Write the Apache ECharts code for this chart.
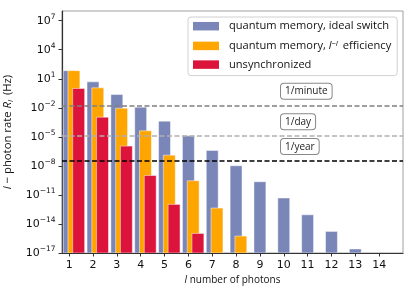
<!DOCTYPE html>
<html><head><meta charset="utf-8">
<script src="https://cdn.jsdelivr.net/npm/echarts@6/dist/echarts.min.js"></script>
<style>html,body{margin:0;padding:0;background:#fff}#c{width:415px;height:291px}</style>
</head><body><div id="c"></div>
<script>
const photons = [1, 2, 3, 4, 5, 6, 7, 8, 9, 10, 11, 12, 13, 14];
const idealSwitch = [69, 4.8, 0.234, 0.0117, 4.2e-4, 1.26e-5, 3.9e-7, 1.02e-8, 2.3e-10, 4.8e-12, 8.9e-14, 1.7e-15, 2.6e-17];
const lEfficiency = [69, 1.15, 9.1e-3, 4.2e-5, 1.29e-7, 2.9e-10, 4.4e-13, 5.6e-16];
const unsynchronized = [1.0, 1.07e-3, 1.1e-6, 1.02e-9, 1.05e-12, 1.05e-15];
const thresholdRates = [1 / 60, 1 / 86400, 1 / 31557600];
const thresholdLabels = ['1/minute', '1/day', '1/year'];

const seriesNames = ['quantum memory, ideal switch', 'quantum memory, l^-l efficiency', 'unsynchronized'];
const colors = ['#7a86b8', '#ffa500', '#dc143c'];
const offsets = [0, 0.2, 0.4];
const BAR_W = 0.5;
const Y_MIN = 1e-17, Y_MAX = 1e8;
const TXT = 'Open Sans';

function makeRender(offset) {
  return function (params, api) {
    const x = api.value(0), y = api.value(1);
    const p1 = api.coord([x + offset - BAR_W / 2, y]);
    const p2 = api.coord([x + offset + BAR_W / 2, Y_MIN]);
    return {
      type: 'rect',
      shape: { x: p1[0], y: p1[1], width: p2[0] - p1[0], height: p2[1] - p1[1] },
      style: { fill: api.visual('color'), stroke: 'rgba(255,255,255,0.8)', lineWidth: 0.6 }
    };
  };
}
const valuesList = [idealSwitch, lEfficiency, unsynchronized];
const series = valuesList.map((vals, k) => ({
  type: 'custom',
  name: seriesNames[k],
  renderItem: makeRender(offsets[k]),
  itemStyle: { color: colors[k] },
  encode: { x: 0, y: 1 },
  data: vals.map((v, i) => [photons[i], v]),
  clip: true,
  z: 2 + k
}));
const lineColors = ['#808080', '#b0b0b0', '#000000'];
series.push({
  type: 'line',
  name: 'thresholds',
  data: [],
  silent: true,
  z: 10,
  markLine: {
    silent: true,
    precision: 20,
    symbol: ['none', 'none'],
    animation: false,
    data: thresholdRates.map((r, i) => ({
      yAxis: r,
      lineStyle: { color: lineColors[i], type: [5, 2.5], width: 1.5 },
      label: { formatter: thresholdLabels[i] }
    })),
    label: {
      show: true,
      position: 'insideStartTop',
      distance: [219, 7],
      fontFamily: TXT,
      fontSize: 10,
      color: '#222',
      backgroundColor: '#fff',
      borderColor: '#888',
      borderWidth: 1,
      borderRadius: 3,
      padding: [2, 4, 1, 4],
      lineHeight: 12
    }
  }
});

const chart = echarts.init(document.getElementById('c'), null, { renderer: 'canvas' });
chart.setOption({
  animation: false,
  backgroundColor: '#fff',
  grid: { left: 62, right: 12, top: 11, bottom: 38, outerBoundsMode: 'none', containLabel: false, show: true, borderColor: '#a0a0a0', borderWidth: 1, backgroundColor: 'transparent' },
  legend: {
    data: seriesNames,
    orient: 'vertical',
    left: 188, top: 17,
    icon: 'rect',
    itemWidth: 26, itemHeight: 8.5, itemGap: 7.7,
    padding: [3.7, 6, 5.5, 5],
    backgroundColor: '#fff',
    borderColor: '#d0d0d0', borderWidth: 1, borderRadius: 3,
    formatter: function (name) {
      if (name === seriesNames[1]) return '{n|quantum memory, }{i|l}{sup|−l}{n| efficiency}';
      return '{n|' + name + '}';
    },
    textStyle: {
      padding: [0, 0, 0, 5],
      rich: {
        n: { fontFamily: TXT, fontSize: 11.1, color: '#111', lineHeight: 13 },
        i: { fontFamily: TXT, fontStyle: 'italic', fontSize: 11.1, color: '#111', lineHeight: 13 },
        sup: { fontFamily: TXT, fontStyle: 'italic', fontSize: 7.8, color: '#111', verticalAlign: 'top', padding: [0, 2, 0, 0] }
      }
    }
  },
  xAxis: {
    type: 'value',
    min: 0.7, max: 15,
    splitLine: { show: false },
    axisLine: { show: true, onZero: false, lineStyle: { color: '#333', width: 1.2 } },
    axisTick: { show: true, length: 3.5, lineStyle: { color: '#333' }, customValues: photons },
    axisLabel: { customValues: photons, fontFamily: 'DejaVu Sans', fontSize: 11, color: '#111', margin: 6.5 },
    name: '{i|l}{n| number of photons}',
    nameLocation: 'middle',
    nameGap: 20,
    nameTextStyle: {
      rich: {
        n: { fontFamily: TXT, fontSize: 10, color: '#111' },
        i: { fontFamily: TXT, fontStyle: 'italic', fontSize: 10, color: '#111' }
      }
    }
  },
  yAxis: {
    type: 'log',
    logBase: 10,
    min: Y_MIN, max: Y_MAX,
    interval: 3,
    splitLine: { show: false },
    axisLine: { show: true, lineStyle: { color: '#333', width: 1.2 } },
    axisTick: { show: true, length: 3.5, lineStyle: { color: '#333' } },
    axisLabel: {
      showMaxLabel: false,
      margin: 6.5,
      formatter: function (v) {
        const e = Math.round(Math.log10(v));
        return '{b|10}{e|' + (e < 0 ? '−' + (-e) : e) + '}';
      },
      rich: {
        b: { fontFamily: 'DejaVu Sans', fontSize: 11, color: '#111', lineHeight: 15 },
        e: { fontFamily: 'DejaVu Sans', fontSize: 7.5, color: '#111', verticalAlign: 'top' }
      }
    },
    name: '{i|l}{n| − photon rate }{i|R}{sub|l}{n| (Hz)}',
    nameLocation: 'middle',
    nameRotate: 90,
    nameGap: 38,
    nameTextStyle: {
      rich: {
        n: { fontFamily: TXT, fontSize: 11.3, color: '#111', lineHeight: 14 },
        i: { fontFamily: TXT, fontStyle: 'italic', fontSize: 11.3, color: '#111', lineHeight: 14 },
        sub: { fontFamily: TXT, fontStyle: 'italic', fontSize: 8, color: '#111', verticalAlign: 'bottom', padding: [0, 2, 0, 0] }
      }
    }
  },
  series: series
});
</script></body></html>
